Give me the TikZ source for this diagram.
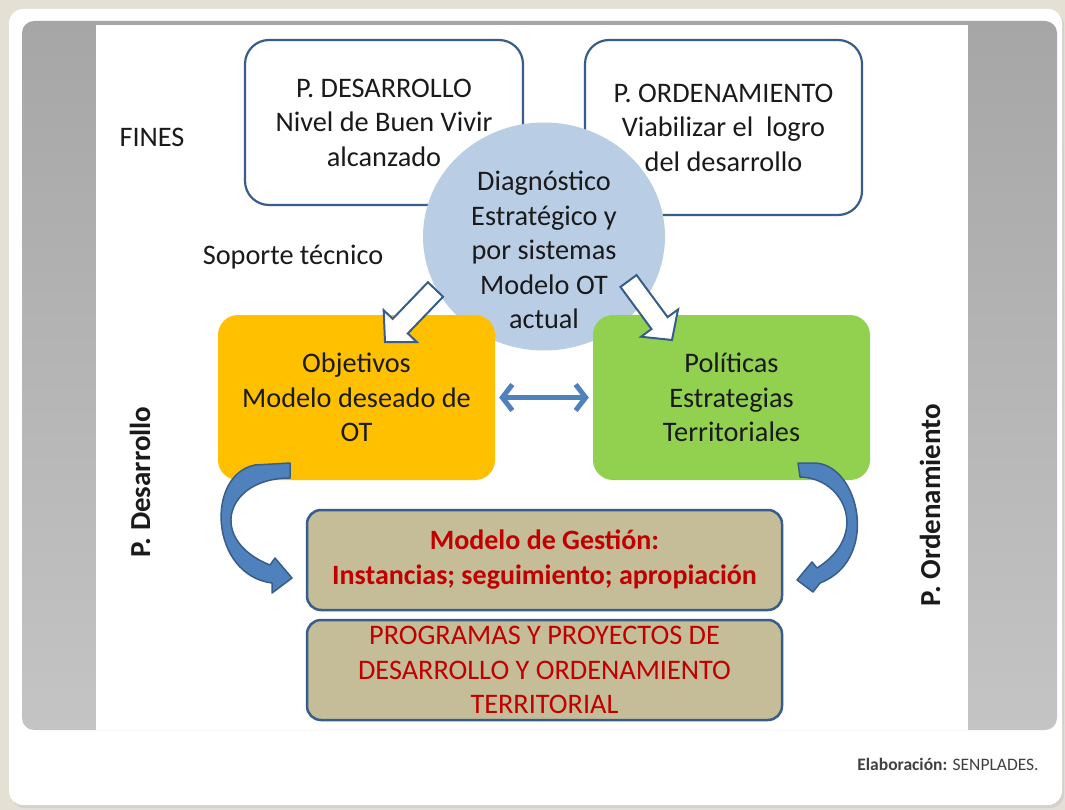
\documentclass[tikz,border=0pt]{standalone}
\usepackage{fontspec}
\setmainfont{Carlito}
\usetikzlibrary{calc,arrows.meta,shapes.geometric}
\definecolor{bdr}{HTML}{385D8A}
\definecolor{arrowblue}{HTML}{4F81BD}
\definecolor{circblue}{HTML}{B9CDE5}
\definecolor{orangefill}{HTML}{FFC000}
\definecolor{greenfill}{HTML}{92D050}
\definecolor{tanfill}{HTML}{C4BD97}
\definecolor{redtext}{HTML}{C00000}
\definecolor{txt}{HTML}{1A1A1A}
\definecolor{beige}{HTML}{E4E0D4}
\definecolor{graydark}{HTML}{A6A6A6}
\definecolor{graylight}{HTML}{C4C4C4}
\begin{document}
\begin{tikzpicture}[x=1pt,y=-1pt,
  every node/.style={font=\fontsize{28.3}{34.5}\selectfont, text=txt, align=center, inner sep=0pt},
  topbox/.style={draw=bdr, line width=2.2pt, fill=white, rounded corners=24pt},
  midbox/.style={rounded corners=20pt, minimum width=277pt, minimum height=165pt},
  tanbox/.style={draw=bdr, line width=2.5pt, fill=tanfill, rounded corners=14pt, minimum width=475pt, minimum height=100pt, text=redtext},
  whitearrow/.style={draw=bdr, fill=white, line width=2pt, line join=miter},
  curvearrow/.style={draw=bdr, fill=arrowblue, line width=1.5pt, line join=round},
  dblarrow/.style={draw=arrowblue, line width=5pt, {Straight Barb[length=10pt,width=26pt]}-{Straight Barb[length=10pt,width=26pt]}},
  sidelabel/.style={rotate=90, font=\bfseries\fontsize{29}{34}\selectfont}
]
\useasboundingbox (0,0) rectangle (1065,810);
% background frame
\fill[beige] (0,0) rectangle (1065,810);
\fill[black!18] (11,11) [rounded corners=14pt] rectangle (1064,808);
\fill[white, rounded corners=14pt] (9,9) rectangle (1062,805);
\shade[top color=graydark, bottom color=graylight, rounded corners=12pt] (22,21) rectangle (1057,730);
\fill[white] (96,25) rectangle (968,730);

% top boxes
\node[topbox, minimum width=278pt, minimum height=165pt] (pd) at (384,122.5)
  {P. DESARROLLO\\Nivel de Buen Vivir\\alcanzado};
\node[topbox, minimum width=277pt, minimum height=175pt] (po) at (723.5,127.5)
  {P. ORDENAMIENTO\\Viabilizar el\ \ logro\\del desarrollo};

% circle
\node[ellipse, fill=circblue, minimum width=242pt, minimum height=228pt] (diag) at (544,236.5) {};
\node (diagtext) at (544,250) {Diagn\'ostico\\Estrat\'egico y\\por sistemas\\Modelo OT\\actual};

% middle boxes
\node[midbox, fill=orangefill] (obj) at (356.5,397.5) {Objetivos\\Modelo deseado de\\OT};
\node[midbox, fill=greenfill] (pol) at (731.5,397.5) {Pol\'iticas\\Estrategias\\Territoriales};

% double arrow
\draw[dblarrow] ([xshift=4pt]obj.east) -- ([xshift=-4pt]pol.west);

% white block arrows
\coordinate (lp) at (435.5,289.5);
\coordinate (lt) at (385,342);
\coordinate (lh) at ($(lt)!22pt!(lp)$);
\draw[whitearrow] ($(lp)!10.5pt!-90:(lt)$) -- ($(lh)!10.5pt!-90:(lt)$) -- ($(lh)!23pt!-90:(lt)$)
  -- (lt) -- ($(lh)!23pt!90:(lt)$) -- ($(lh)!10.5pt!90:(lt)$) -- ($(lp)!10.5pt!90:(lt)$) -- cycle;
\coordinate (rp) at (628.5,281);
\coordinate (rt) at (672,340);
\coordinate (rh) at ($(rt)!21pt!(rp)$);
\draw[whitearrow] ($(rp)!10pt!-90:(rt)$) -- ($(rh)!10pt!-90:(rt)$) -- ($(rh)!23pt!-90:(rt)$)
  -- (rt) -- ($(rh)!23pt!90:(rt)$) -- ($(rh)!10pt!90:(rt)$) -- ($(rp)!10pt!90:(rt)$) -- cycle;

% bottom boxes
\node[tanbox, font=\bfseries\fontsize{28}{35}\selectfont] (mg) at (544.5,560)
  {Modelo de Gesti\'on:\\Instancias; seguimiento; apropiaci\'on};
\node[tanbox] (pp) at (544.5,670)
  {PROGRAMAS Y PROYECTOS DE\\DESARROLLO Y ORDENAMIENTO\\TERRITORIAL};

% curved arrows
\draw[curvearrow] (290,463) -- (290,478) .. controls (225,478) and (207,540) .. (270,565)
  -- (275,558) -- (292,578) -- (272,593) -- (272,583)
  .. controls (210,575) and (205,475) .. (255,465) -- cycle;
\draw[curvearrow] (798,463) -- (800,477) .. controls (845,478) and (870,535) .. (817,568)
  -- (812,562) -- (797,580) -- (813,592) -- (820,583)
  .. controls (880,560) and (860,465) .. (815,463) -- cycle;

% labels
\node (fines) at (152,137) {FINES};
\node (soporte) at (293,257) {Soporte t\'ecnico};
\node[sidelabel] (vd) at (140,482) {P. Desarrollo};
\node[sidelabel] (vo) at (930,505) {P. Ordenamiento};
\node[font=\fontsize{17.5}{20}\selectfont, text=black!75] (elab) at (948,764) {\textbf{Elaboraci\'on:} SENPLADES.};
\end{tikzpicture}
\end{document}
